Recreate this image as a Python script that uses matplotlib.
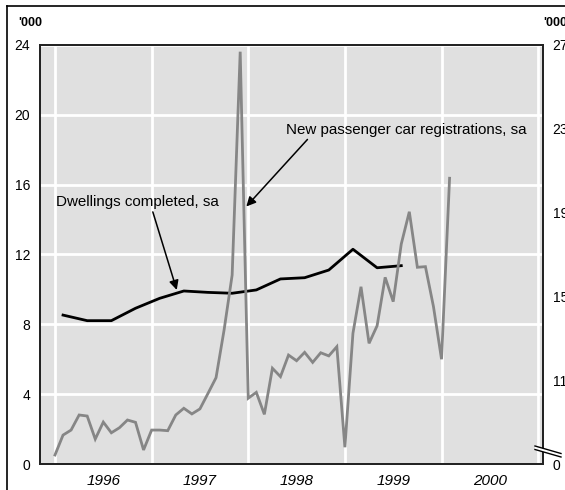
import numpy as np
import matplotlib.pyplot as plt
from matplotlib.lines import Line2D
from matplotlib.patches import Polygon

plt.rcParams['font.family'] = ['Liberation Sans', 'DejaVu Sans']

# monthly car registrations ('000, right axis), Jan 1996 .. Feb 2000
cars = [7.43, 8.38, 8.62, 9.34, 9.29, 8.19, 9.00, 8.49, 8.73, 9.10, 8.99, 7.67,
        8.62, 8.62, 8.59, 9.34, 9.66, 9.39, 9.63, 10.37, 11.12, 13.40, 16.02, 26.68,
        10.14, 10.42, 9.37, 11.57, 11.17, 12.20, 11.93, 12.33, 11.85, 12.31, 12.16, 12.60,
        7.80, 13.24, 15.46, 12.76, 13.60, 15.91, 14.75, 17.50, 19.04, 16.39, 16.42, 14.51,
        12.00, 20.64]
cars_x = 1996 + np.arange(len(cars)) / 12

# quarterly dwellings completed ('000, left axis), plotted at mid-quarter month
dwell = [8.53, 8.21, 8.21, 8.92, 9.49, 9.91, 9.83, 9.78, 9.97, 10.60, 10.67, 11.11,
         12.30, 11.24, 11.36]
dwell_x = 1996 + (1 + 3 * np.arange(len(dwell))) / 12

years = [1996, 1997, 1998, 1999, 2000]
left_ticks = [0, 4, 8, 12, 16, 20, 24]
right_ticks = [7, 11, 15, 19, 23, 27]
right_labels = ['0', '11', '15', '19', '23', '27']

W, H = 565, 490
fig = plt.figure(figsize=(W / 100, H / 100), dpi=100)
ax = fig.add_axes([40 / W, (H - 464) / H, (543 - 40) / W, (464 - 45) / H])
ax2 = ax.twinx()

ax.set_facecolor('#e0e0e0')
ax.set_xlim(1995.845, 2001.05)
ax.set_ylim(0, 24)
ax2.set_ylim(7, 27)

ax.set_xticks([y + 0.5 for y in years])
ax.set_xticklabels([str(y) for y in years], fontsize=11, style='italic')
ax.set_xticks(years + [2001], minor=True)
ax.set_yticks(left_ticks)
ax.set_yticklabels([str(t) for t in left_ticks], fontsize=10)
ax2.set_yticks(right_ticks)
ax2.set_yticklabels(right_labels, fontsize=10)
ax.tick_params(which='both', length=0)
ax.tick_params(axis='x', pad=7)
ax.tick_params(axis='y', pad=7)
ax2.tick_params(length=0, pad=7)

ax.grid(False)
ax.xaxis.grid(True, which='minor', color='white', lw=2)
ax.yaxis.grid(True, which='major', color='white', lw=2)
ax.set_axisbelow(True)
for sp in list(ax.spines.values()) + list(ax2.spines.values()):
    sp.set_linewidth(1.3)
    sp.set_color('#222222')

ax2.plot(cars_x, cars, color='#868686', lw=2.0, solid_joinstyle='miter')
ax.plot(dwell_x, dwell, color='black', lw=2.0, zorder=5)

# annotations
ax.annotate('New passenger car registrations, sa', xy=(1997.98, 14.75), xytext=(1998.39, 19.15),
            fontsize=10.9, va='center', ha='left',
            arrowprops=dict(arrowstyle='-|>', color='black', lw=1.1, mutation_scale=14,
                            shrinkA=0, shrinkB=0, relpos=(0.1, 0)))
ax.annotate('Dwellings completed, sa', xy=(1997.26, 9.97), xytext=(1996.01, 15.0),
            fontsize=10.9, va='center', ha='left',
            arrowprops=dict(arrowstyle='-|>', color='black', lw=1.1, mutation_scale=14,
                            shrinkA=0, shrinkB=0, relpos=(0.59, 0)))

# '000 unit labels
fig.text(18 / W, 1 - 23 / H, "'000", fontsize=9, fontweight='bold', va='center', ha='left')
fig.text(543 / W, 1 - 23 / H, "'000", fontsize=9, fontweight='bold', va='center', ha='left')

# outer frame (left and top edges)
fig.add_artist(Line2D([7 / W, 7 / W], [0, 1 - 6 / H], color='black', lw=1.2))
fig.add_artist(Line2D([7 / W, 1], [1 - 6 / H, 1 - 6 / H], color='black', lw=1.2))

# axis break on right axis
p1 = [(535, 446), (561, 453.5)]
p2 = [(535, 449.5), (561, 457)]
gap = Polygon([(x / W, 1 - y / H) for x, y in p1 + p2[::-1]], closed=True,
              transform=fig.transFigure, facecolor='white', edgecolor='none', zorder=10)
fig.add_artist(gap)
for p in (p1, p2):
    fig.add_artist(Line2D([p[0][0] / W, p[1][0] / W], [1 - p[0][1] / H, 1 - p[1][1] / H],
                          color='black', lw=1.0, zorder=11))

fig.savefig('out.png', dpi=100)
